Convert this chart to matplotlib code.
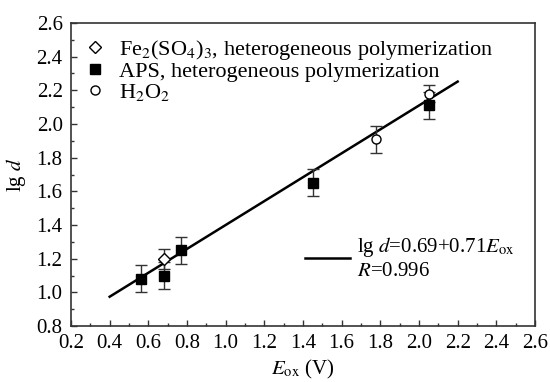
import numpy as np
import matplotlib
matplotlib.use("Agg")
import matplotlib.pyplot as plt
from matplotlib.ticker import MultipleLocator
from matplotlib.lines import Line2D

plt.rcParams['font.family'] = ['Liberation Serif', 'DejaVu Serif']
plt.rcParams['mathtext.fontset'] = 'stix'

# data
aps_x = [0.56, 0.68, 0.77, 1.45, 2.05]
aps_y = [1.08, 1.10, 1.25, 1.65, 2.11]
aps_err = [0.08, 0.08, 0.08, 0.08, 0.08]

fe_x = [0.68]
fe_y = [1.20]
fe_err = [0.06]

h2o2_x = [1.78, 2.05]
h2o2_y = [1.91, 2.18]
h2o2_err = [0.08, 0.05]

fit_x = [0.4, 2.2]
fit_y = [0.974, 2.252]

fig = plt.figure(figsize=(5.5, 3.82), dpi=100)
ax = fig.add_subplot(111)
fig.subplots_adjust(left=71/550, right=535/550, top=1 - 23/382, bottom=1 - 326/382)

line, = ax.plot(fit_x, fit_y, color='black', lw=1.8, zorder=2)

err_kw = dict(ecolor='#333333', elinewidth=1.0, capsize=4, capthick=1.0, ls='none', zorder=3)
ax.errorbar(fe_x, fe_y, yerr=fe_err, fmt='D', ms=6.5, mfc='white', mec='black', mew=1.0, **err_kw)
ax.errorbar(aps_x, aps_y, yerr=aps_err, fmt='s', ms=7, mfc='black', mec='black', **err_kw)
ax.errorbar(h2o2_x, h2o2_y, yerr=h2o2_err, fmt='o', ms=6.5, mfc='white', mec='black', mew=1.0, **err_kw)

ax.set_xlim(0.2, 2.6)
ax.set_ylim(0.8, 2.6)
ax.xaxis.set_major_locator(MultipleLocator(0.2))
ax.xaxis.set_minor_locator(MultipleLocator(0.1))
ax.yaxis.set_major_locator(MultipleLocator(0.2))
ax.yaxis.set_minor_locator(MultipleLocator(0.1))
ax.xaxis.set_major_formatter(plt.FormatStrFormatter('%.1f'))
ax.yaxis.set_major_formatter(plt.FormatStrFormatter('%.1f'))
ax.tick_params(which='both', direction='in', top=False, right=False, labelsize=15)
ax.tick_params(axis='x', pad=6)
ax.tick_params(axis='y', pad=6)
ax.tick_params(which='major', length=4, width=1, color='#333333')
ax.tick_params(which='minor', length=2.5, width=1, color='#333333')
for s in ax.spines.values():
    s.set_color('#333333')
    s.set_linewidth(1.2)

ax.set_xlabel(r'$E_{\rm ox}$ (V)', fontsize=15, labelpad=3)
ax.set_ylabel(r'lg $d$', fontsize=15, labelpad=6)

# legend handles without the error bars
h_fe = Line2D([], [], ls='none', marker='D', ms=6.5, mfc='white', mec='black', mew=1.0)
h_aps = Line2D([], [], ls='none', marker='s', ms=7, mfc='black', mec='black')
h_h2 = Line2D([], [], ls='none', marker='o', ms=6.5, mfc='white', mec='black', mew=1.0)

leg1 = ax.legend([h_fe, h_aps, h_h2],
                 [r'Fe$_2$(SO$_4$)$_3$, heterogeneous polymerization',
                  'APS, heterogeneous polymerization',
                  r'H$_2$O$_2$'],
                 loc='upper left', bbox_to_anchor=(-0.02, 1.025), frameon=False, fontsize=16,
                 handlelength=1.0, handletextpad=0.6, labelspacing=0.0, borderaxespad=0.6)
ax.add_artist(leg1)
ax.legend([line], ['lg $d$=0.69+0.71$E_{\\rm ox}$\n$R$=0.996'], loc='lower right',
          bbox_to_anchor=(1.0, 0.08), frameon=False, fontsize=15,
          handlelength=2.2, handletextpad=0.3, borderaxespad=0.6)

fig.savefig('out.png', dpi=100)
